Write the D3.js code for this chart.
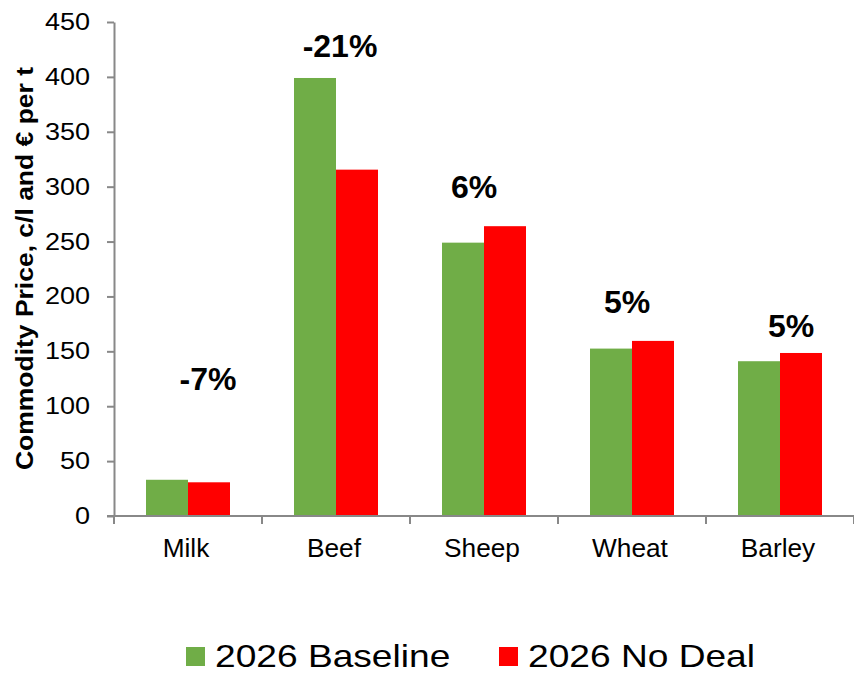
<!DOCTYPE html>
<html><head><meta charset="utf-8">
<script src="https://cdn.jsdelivr.net/npm/d3@7"></script>
<style>
html,body{margin:0;padding:0;background:#fff;}
svg{display:block;font-family:Arial,"Liberation Sans",sans-serif;}
</style></head>
<body>
<svg id="chart" width="854" height="676"></svg>
<script>
// ---- data ----
const categories = ["Milk", "Beef", "Sheep", "Wheat", "Barley"];
const seriesNames = ["2026 Baseline", "2026 No Deal"];
const baseline = [33, 399, 249, 152.5, 141];
const noDeal = [30.7, 315.5, 264, 159.5, 148.5];
const changeLabels = ["-7%", "-21%", "6%", "5%", "5%"];
const yTicks = [0, 50, 100, 150, 200, 250, 300, 350, 400, 450];

// annotation anchors (data units / px offsets)
const labelY = [115, 418, 290, 185, 163];
const labelDx = [20, 4, -10, -5, 11];

const colors = ["#70AD47", "#FF0000"];
const axisColor = "#888888";

const svg = d3.select("#chart");
const plot = {left: 114, right: 854, top: 22, bottom: 516};

// stretch text horizontally (reference glyphs are slightly wide)
function stretch(sel, k) {
  sel.each(function() {
    const w = this.getComputedTextLength();
    d3.select(this).attr("textLength", w * k).attr("lengthAdjust", "spacingAndGlyphs");
  });
}

const x0 = d3.scaleBand().domain(categories).range([plot.left, plot.right]).padding(0);
const x1 = d3.scaleBand().domain(seriesNames).range([32, 116]).padding(0);
const y = d3.scaleLinear().domain([0, 450]).range([plot.bottom, plot.top]);

const values = [baseline, noDeal];

// bars
const groups = svg.append("g").selectAll("g")
  .data(categories).join("g")
  .attr("transform", d => `translate(${x0(d)},0)`);

groups.selectAll("rect")
  .data((c, i) => seriesNames.map((s, j) => ({s, v: values[j][i], j})))
  .join("rect")
  .attr("x", d => x1(d.s))
  .attr("width", x1.bandwidth())
  .attr("y", d => y(d.v))
  .attr("height", d => y(0) - y(d.v))
  .attr("fill", d => colors[d.j]);

// y axis
const yAxis = d3.axisLeft(y).tickValues(yTicks).tickSize(7).tickPadding(17).tickSizeOuter(0);
const gy = svg.append("g").attr("transform", `translate(${plot.left},0)`).call(yAxis);
gy.select(".domain").attr("stroke", axisColor).attr("stroke-width", 2);
gy.selectAll(".tick line").attr("stroke", axisColor).attr("stroke-width", 2);
gy.selectAll(".tick text").attr("fill", "#000").style("font-size", "23.5px")
  .style("font-family", "Arial, 'Liberation Sans', sans-serif")
  .call(stretch, 1.15);

// x axis
const gx = svg.append("g").attr("transform", `translate(0,${plot.bottom})`);
gx.append("line").attr("x1", plot.left - 7).attr("x2", plot.right)
  .attr("stroke", axisColor).attr("stroke-width", 2);
const bounds = categories.map(c => x0(c)).concat([x0(categories[categories.length-1]) + x0.step()]);
gx.selectAll("line.tk").data(bounds).join("line").attr("class", "tk")
  .attr("x1", d => d).attr("x2", d => d).attr("y1", 0).attr("y2", 8)
  .attr("stroke", axisColor).attr("stroke-width", 2);
gx.selectAll("text").data(categories).join("text")
  .attr("x", d => x0(d) + x0.bandwidth() / 2 - 2)
  .attr("y", 41)
  .attr("text-anchor", "middle")
  .style("font-size", "25px")
  .text(d => d)
  .call(stretch, 1.05);

// y axis title
svg.append("text")
  .attr("transform", `translate(33,268.5) rotate(-90)`)
  .attr("text-anchor", "middle")
  .attr("textLength", 403).attr("lengthAdjust", "spacingAndGlyphs")
  .style("font-size", "24px").style("font-weight", "bold")
  .text("Commodity Price, c/l and € per t");

// change annotations
svg.append("g").selectAll("text").data(categories).join("text")
  .attr("x", (d, i) => x0(d) + x0.bandwidth() / 2 + labelDx[i])
  .attr("y", (d, i) => y(labelY[i]))
  .attr("text-anchor", "middle")
  .style("font-size", "32px").style("font-weight", "bold")
  .text((d, i) => changeLabels[i]);

// legend
const legendX = [186, 499];
const lg = svg.append("g").selectAll("g").data(seriesNames).join("g")
  .attr("transform", (d, i) => `translate(${legendX[i]},647)`);
lg.append("rect").attr("width", 19).attr("height", 19).attr("fill", (d, i) => colors[i]);
lg.append("text").attr("x", 29).attr("y", 20)
  .style("font-size", "32px").text(d => d)
  .call(stretch, 1.16);
</script>
</body></html>
